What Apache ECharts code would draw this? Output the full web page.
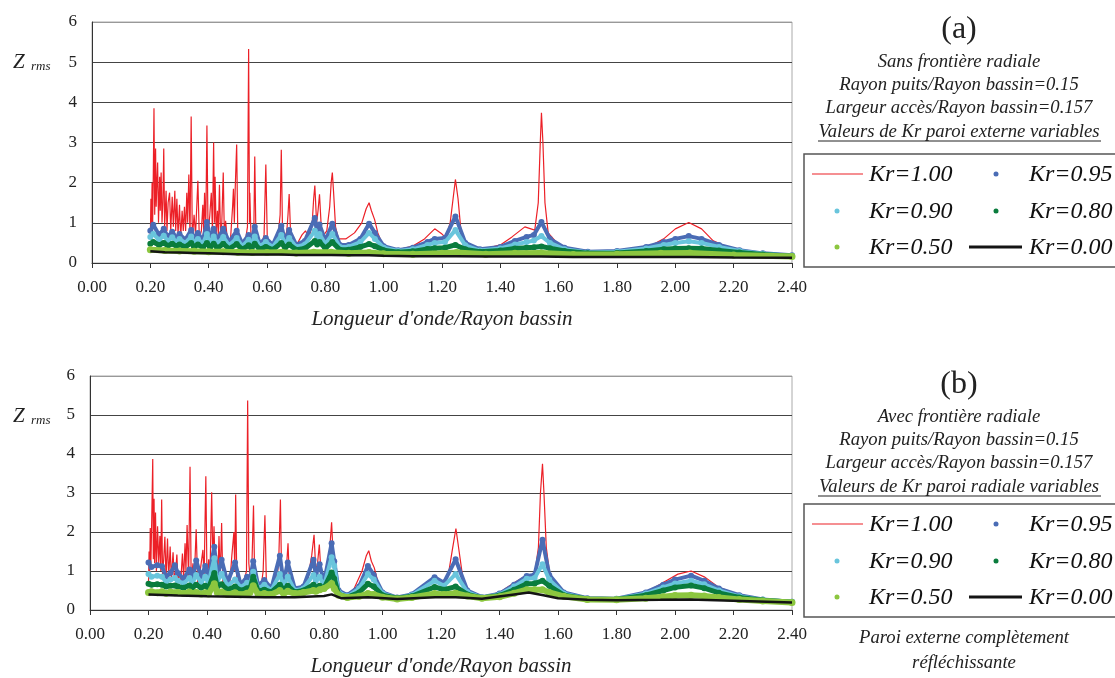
<!DOCTYPE html>
<html>
<head>
<meta charset="utf-8">
<script src="https://cdn.jsdelivr.net/npm/echarts@6/dist/echarts.min.js"></script>
<style>
	html, body { margin: 0; padding: 0; background: #fff; }
	#main { width: 1115px; height: 678px; }
</style>
</head>
<body>
<div id="main"></div>
<script>
// ---- données ----
var xTicks = [0, 0.2, 0.4, 0.6, 0.8, 1.0, 1.2, 1.4, 1.6, 1.8, 2.0, 2.2, 2.4];
var yTicks = [0, 1, 2, 3, 4, 5, 6];
var krNames = ["Kr=1.00", "Kr=0.95", "Kr=0.90", "Kr=0.80", "Kr=0.50", "Kr=0.00"];

// (a) Kr=1.00
var redAx = [0.200, 0.202, 0.204, 0.206, 0.208, 0.210, 0.2125, 0.215, 0.218, 0.220, 0.222, 0.225, 0.228, 0.232, 0.234, 0.237, 0.240, 0.243, 0.246, 0.249,
	0.252, 0.254, 0.257, 0.261, 0.266, 0.270, 0.275, 0.279, 0.284, 0.287, 0.291, 0.295, 0.300, 0.304, 0.309, 0.313, 0.317, 0.321, 0.325, 0.328,
	0.332, 0.336, 0.340, 0.344, 0.350, 0.355, 0.363, 0.368, 0.375, 0.380, 0.383, 0.386, 0.390, 0.394, 0.398, 0.404, 0.409, 0.413, 0.417, 0.420,
	0.422, 0.426, 0.430, 0.433, 0.437, 0.441, 0.445, 0.450, 0.454, 0.458, 0.465, 0.475, 0.482, 0.485, 0.488, 0.491, 0.496, 0.500, 0.510, 0.525,
	0.533, 0.537, 0.540, 0.541, 0.545, 0.550, 0.555, 0.558, 0.562, 0.570, 0.580, 0.590, 0.596, 0.601, 0.615, 0.630, 0.640, 0.645, 0.649, 0.653,
	0.660, 0.668, 0.672, 0.676, 0.681, 0.690, 0.705, 0.720, 0.732, 0.745, 0.755, 0.760, 0.764, 0.770, 0.775, 0.780, 0.786, 0.795, 0.805, 0.815,
	0.820, 0.824, 0.828, 0.835, 0.845, 0.870, 0.900, 0.925, 0.940, 0.950, 0.958, 0.969, 0.980, 0.998, 1.030, 1.055, 1.100, 1.140, 1.175, 1.200,
	1.213, 1.228, 1.238, 1.246, 1.255, 1.265, 1.280, 1.340, 1.400, 1.440, 1.484, 1.518, 1.530, 1.537, 1.541, 1.546, 1.553, 1.564, 1.600, 1.650,
	1.740, 1.850, 1.920, 1.960, 2.000, 2.046, 2.090, 2.130, 2.200, 2.300, 2.400];
var redAy = [0.6, 1.6, 0.9, 2.0, 1.0, 2.1, 3.85, 1.2, 2.85, 1.4, 1.9, 2.5, 1.0, 2.15, 1.3, 2.25, 1.0, 1.5, 2.85, 0.9,
	1.4, 1.8, 0.8, 1.5, 1.75, 0.8, 1.65, 0.9, 1.8, 0.8, 1.6, 0.7, 1.45, 0.6, 1.3, 0.8, 1.4, 0.8, 1.75, 1.0,
	2.2, 0.7, 3.65, 0.6, 1.2, 0.7, 2.05, 0.6, 0.8, 1.45, 0.8, 1.75, 0.8, 3.42, 0.7, 1.2, 1.75, 0.8, 3.0, 1.0,
	2.15, 0.7, 1.3, 0.7, 1.95, 0.6, 1.0, 2.25, 0.6, 1.05, 0.5, 0.6, 1.4, 1.85, 1.0, 1.85, 2.95, 0.6, 0.45, 0.5,
	0.9, 5.33, 1.0, 1.75, 0.7, 0.55, 0.9, 2.65, 0.7, 0.5, 0.4, 0.7, 2.45, 0.6, 0.4, 0.5, 0.8, 1.2, 2.82, 0.9,
	0.6, 0.8, 1.2, 1.72, 0.7, 0.5, 0.5, 0.7, 0.8, 0.6, 1.0, 1.6, 1.93, 1.0, 1.3, 1.71, 0.9, 0.7, 0.8, 1.4,
	2.0, 2.25, 1.8, 0.9, 0.6, 0.6, 0.75, 1.0, 1.35, 1.5, 1.3, 1.08, 0.75, 0.42, 0.35, 0.34, 0.42, 0.6, 0.85, 0.72,
	0.63, 1.0, 1.6, 2.08, 1.6, 0.8, 0.45, 0.34, 0.45, 0.65, 0.9, 0.82, 1.5, 3.0, 3.74, 3.0, 1.5, 0.75, 0.45, 0.34,
	0.28, 0.35, 0.45, 0.6, 0.85, 1.01, 0.85, 0.55, 0.33, 0.24, 0.2];

// (a) Kr=0.95 / 0.90 / 0.80
var midAx = [0.20, 0.21, 0.23, 0.246, 0.26, 0.275, 0.29, 0.30, 0.32, 0.34, 0.35, 0.363, 0.38, 0.394, 0.405, 0.417, 0.43, 0.45, 0.47, 0.496,
	0.515, 0.537, 0.547, 0.558, 0.575, 0.596, 0.62, 0.649, 0.662, 0.676, 0.70, 0.73, 0.764, 0.772, 0.78, 0.80, 0.824, 0.85, 0.88, 0.92,
	0.95, 0.97, 1.00, 1.05, 1.10, 1.15, 1.175, 1.21, 1.246, 1.28, 1.33, 1.40, 1.45, 1.49, 1.515, 1.541, 1.57, 1.62, 1.70, 1.80,
	1.90, 1.96, 2.00, 2.046, 2.09, 2.15, 2.22, 2.30, 2.40];
var blueAy = [0.80, 0.95, 0.70, 0.85, 0.65, 0.78, 0.62, 0.72, 0.58, 0.82, 0.60, 0.75, 0.55, 1.02, 0.62, 0.85, 0.58, 0.85, 0.52, 0.80,
	0.48, 0.70, 0.55, 0.90, 0.48, 0.62, 0.45, 0.93, 0.55, 0.82, 0.45, 0.55, 1.12, 0.75, 0.96, 0.55, 0.98, 0.45, 0.45, 0.60,
	0.98, 0.75, 0.42, 0.32, 0.38, 0.52, 0.60, 0.62, 1.16, 0.50, 0.34, 0.40, 0.55, 0.65, 0.70, 1.02, 0.60, 0.38, 0.28, 0.30,
	0.40, 0.52, 0.60, 0.67, 0.60, 0.45, 0.32, 0.24, 0.19];
var cyanAy = [0.65, 0.72, 0.58, 0.68, 0.55, 0.64, 0.52, 0.60, 0.50, 0.66, 0.50, 0.60, 0.48, 0.72, 0.50, 0.66, 0.48, 0.65, 0.44, 0.62,
	0.42, 0.58, 0.46, 0.66, 0.42, 0.52, 0.40, 0.70, 0.48, 0.62, 0.40, 0.46, 0.80, 0.62, 0.72, 0.47, 0.72, 0.40, 0.40, 0.52,
	0.75, 0.60, 0.38, 0.30, 0.34, 0.45, 0.50, 0.52, 0.82, 0.44, 0.31, 0.36, 0.46, 0.52, 0.56, 0.67, 0.50, 0.34, 0.26, 0.28,
	0.36, 0.45, 0.50, 0.54, 0.50, 0.40, 0.30, 0.23, 0.18];
var greenAy = [0.48, 0.52, 0.45, 0.50, 0.43, 0.48, 0.42, 0.46, 0.40, 0.50, 0.40, 0.46, 0.38, 0.50, 0.39, 0.48, 0.37, 0.48, 0.35, 0.47,
	0.34, 0.44, 0.37, 0.48, 0.34, 0.40, 0.33, 0.50, 0.38, 0.46, 0.33, 0.36, 0.55, 0.46, 0.52, 0.37, 0.52, 0.33, 0.33, 0.40,
	0.47, 0.42, 0.32, 0.27, 0.29, 0.35, 0.37, 0.38, 0.45, 0.34, 0.28, 0.31, 0.36, 0.38, 0.39, 0.41, 0.37, 0.30, 0.24, 0.25,
	0.30, 0.34, 0.36, 0.37, 0.36, 0.31, 0.26, 0.21, 0.17];

// (a) Kr=0.50 / 0.00
var lowAx = [0.20, 0.25, 0.30, 0.35, 0.40, 0.45, 0.50, 0.55, 0.60, 0.65, 0.70, 0.76, 0.82, 0.88, 0.95, 1.00, 1.10, 1.20, 1.25, 1.35,
	1.45, 1.54, 1.65, 1.80, 1.95, 2.05, 2.20, 2.40];
var ygAy = [0.33, 0.31, 0.30, 0.29, 0.28, 0.28, 0.27, 0.26, 0.26, 0.27, 0.25, 0.27, 0.27, 0.24, 0.26, 0.23, 0.22, 0.24, 0.26, 0.22,
	0.24, 0.25, 0.21, 0.22, 0.24, 0.25, 0.20, 0.16];
var blackAy = [0.29, 0.27, 0.26, 0.25, 0.24, 0.23, 0.22, 0.21, 0.21, 0.21, 0.20, 0.20, 0.20, 0.19, 0.19, 0.18, 0.17, 0.17, 0.17, 0.16,
	0.16, 0.16, 0.15, 0.15, 0.15, 0.15, 0.14, 0.13];

// (b) Kr=1.00
var redBx = [0.200, 0.202, 0.204, 0.206, 0.208, 0.211, 0.2145, 0.2165, 0.219, 0.221, 0.224, 0.227, 0.231, 0.235, 0.239, 0.242, 0.245, 0.248, 0.252, 0.256,
	0.260, 0.265, 0.269, 0.274, 0.278, 0.284, 0.288, 0.293, 0.297, 0.301, 0.306, 0.310, 0.316, 0.320, 0.325, 0.328, 0.332, 0.337, 0.342, 0.346,
	0.352, 0.356, 0.363, 0.368, 0.375, 0.386, 0.390, 0.396, 0.400, 0.406, 0.410, 0.416, 0.420, 0.424, 0.428, 0.433, 0.437, 0.441, 0.445, 0.450,
	0.454, 0.460, 0.468, 0.478, 0.485, 0.492, 0.495, 0.498, 0.502, 0.512, 0.525, 0.535, 0.539, 0.543, 0.548, 0.553, 0.559, 0.563, 0.572, 0.585,
	0.592, 0.598, 0.603, 0.615, 0.630, 0.640, 0.645, 0.651, 0.655, 0.662, 0.670, 0.677, 0.682, 0.695, 0.710, 0.730, 0.745, 0.758, 0.766, 0.772,
	0.778, 0.784, 0.790, 0.800, 0.810, 0.818, 0.826, 0.830, 0.838, 0.848, 0.870, 0.900, 0.930, 0.945, 0.953, 0.962, 0.972, 0.985, 1.000, 1.050,
	1.100, 1.150, 1.178, 1.205, 1.225, 1.240, 1.251, 1.262, 1.275, 1.295, 1.340, 1.400, 1.450, 1.493, 1.520, 1.533, 1.540, 1.547, 1.552, 1.560,
	1.572, 1.620, 1.700, 1.800, 1.900, 1.970, 2.010, 2.055, 2.100, 2.150, 2.220, 2.300, 2.400];
var redBy = [0.7, 1.5, 0.9, 2.1, 1.1, 2.3, 3.87, 1.3, 2.85, 1.2, 2.5, 1.0, 2.15, 1.2, 1.9, 1.0, 2.83, 0.9, 1.3, 1.88,
	0.8, 1.83, 0.8, 1.63, 0.8, 1.48, 0.8, 1.0, 1.42, 0.7, 1.0, 0.7, 1.45, 0.8, 1.71, 1.0, 2.18, 0.8, 3.67, 0.7,
	1.2, 0.7, 2.07, 0.7, 0.9, 1.54, 0.8, 3.43, 0.8, 1.3, 0.8, 3.02, 1.2, 2.15, 0.9, 1.4, 0.8, 1.9, 0.8, 2.23,
	0.7, 0.9, 0.6, 0.7, 1.4, 2.0, 1.0, 2.96, 0.7, 0.6, 0.7, 1.0, 5.37, 1.2, 0.8, 1.0, 2.68, 0.8, 0.6, 0.6,
	1.0, 2.43, 0.7, 0.5, 0.55, 0.9, 1.2, 2.83, 0.9, 0.6, 0.9, 1.71, 0.7, 0.5, 0.55, 0.6, 0.8, 1.4, 1.93, 1.0,
	1.2, 1.68, 0.9, 0.7, 0.8, 1.4, 2.25, 1.6, 0.9, 0.5, 0.38, 0.5, 1.0, 1.4, 1.52, 1.25, 1.08, 0.7, 0.45, 0.32,
	0.42, 0.7, 0.84, 0.72, 0.9, 1.6, 2.09, 1.5, 0.8, 0.5, 0.33, 0.45, 0.7, 0.89, 0.9, 1.6, 3.0, 3.75, 3.0, 1.6,
	0.9, 0.45, 0.30, 0.29, 0.45, 0.75, 0.92, 1.0, 0.85, 0.58, 0.38, 0.27, 0.21];

// (b) Kr=0.95 / 0.90 / 0.80 / 0.50
var midBx = [0.20, 0.21, 0.23, 0.246, 0.26, 0.275, 0.29, 0.30, 0.32, 0.34, 0.35, 0.363, 0.38, 0.394, 0.405, 0.425, 0.435, 0.45, 0.47, 0.496,
	0.515, 0.537, 0.547, 0.558, 0.575, 0.596, 0.62, 0.649, 0.662, 0.676, 0.70, 0.73, 0.764, 0.772, 0.785, 0.80, 0.826, 0.835, 0.85, 0.88,
	0.92, 0.95, 0.97, 1.00, 1.05, 1.10, 1.178, 1.21, 1.25, 1.29, 1.34, 1.40, 1.45, 1.493, 1.52, 1.547, 1.57, 1.62, 1.70, 1.80,
	1.90, 1.96, 2.00, 2.055, 2.10, 2.15, 2.22, 2.30, 2.40];
var blueBy = [1.22, 1.10, 1.15, 1.12, 0.85, 0.95, 1.15, 0.95, 0.80, 1.04, 0.80, 1.27, 0.85, 1.13, 0.80, 1.62, 0.85, 1.29, 0.70, 1.22,
	0.65, 0.85, 0.75, 1.25, 0.62, 0.77, 0.55, 1.39, 0.70, 1.22, 0.55, 0.60, 1.29, 0.90, 1.17, 0.70, 1.71, 1.25, 0.50, 0.38,
	0.60, 1.13, 0.90, 0.45, 0.32, 0.40, 0.84, 0.70, 1.30, 0.50, 0.33, 0.42, 0.65, 0.87, 0.90, 1.80, 0.90, 0.45, 0.30, 0.29,
	0.45, 0.65, 0.78, 0.88, 0.75, 0.55, 0.38, 0.27, 0.21];
var cyanBy = [0.92, 0.85, 0.88, 0.85, 0.72, 0.78, 0.82, 0.75, 0.68, 0.82, 0.68, 0.90, 0.70, 0.85, 0.68, 1.33, 0.72, 0.93, 0.62, 0.78,
	0.58, 0.70, 0.65, 0.98, 0.55, 0.65, 0.50, 0.92, 0.62, 0.85, 0.50, 0.55, 0.90, 0.75, 0.85, 0.62, 1.35, 1.13, 0.45, 0.35,
	0.55, 0.92, 0.78, 0.42, 0.31, 0.38, 0.75, 0.62, 0.92, 0.46, 0.32, 0.40, 0.60, 0.80, 0.82, 1.17, 0.78, 0.42, 0.29, 0.28,
	0.42, 0.58, 0.68, 0.75, 0.66, 0.50, 0.35, 0.26, 0.21];
var greenBy = [0.67, 0.65, 0.66, 0.65, 0.60, 0.62, 0.63, 0.60, 0.57, 0.63, 0.57, 0.65, 0.57, 0.62, 0.56, 0.95, 0.60, 0.66, 0.52, 0.60,
	0.50, 0.56, 0.55, 0.85, 0.48, 0.52, 0.46, 0.65, 0.52, 0.62, 0.46, 0.50, 0.65, 0.58, 0.62, 0.56, 0.96, 0.80, 0.40, 0.33,
	0.45, 0.67, 0.60, 0.38, 0.30, 0.35, 0.59, 0.52, 0.60, 0.40, 0.31, 0.37, 0.52, 0.67, 0.68, 0.75, 0.62, 0.38, 0.28, 0.27,
	0.38, 0.50, 0.58, 0.63, 0.56, 0.44, 0.32, 0.25, 0.20];
var ygBy = [0.45, 0.47, 0.44, 0.47, 0.43, 0.46, 0.44, 0.45, 0.42, 0.46, 0.42, 0.45, 0.41, 0.44, 0.41, 0.67, 0.45, 0.46, 0.40, 0.44,
	0.39, 0.43, 0.45, 0.62, 0.40, 0.42, 0.40, 0.50, 0.42, 0.48, 0.42, 0.45, 0.50, 0.48, 0.52, 0.55, 0.68, 0.55, 0.38, 0.32,
	0.35, 0.42, 0.40, 0.33, 0.28, 0.32, 0.42, 0.40, 0.43, 0.36, 0.30, 0.34, 0.43, 0.52, 0.52, 0.52, 0.45, 0.35, 0.27, 0.26,
	0.30, 0.34, 0.37, 0.38, 0.36, 0.32, 0.27, 0.23, 0.19];

// (b) Kr=0.00
var lowBx = [0.20, 0.30, 0.40, 0.50, 0.60, 0.70, 0.80, 0.826, 0.86, 0.95, 1.05, 1.18, 1.25, 1.34, 1.45, 1.50, 1.55, 1.60, 1.70, 1.80,
	1.95, 2.05, 2.20, 2.40];
var blackBy = [0.40, 0.37, 0.35, 0.34, 0.33, 0.33, 0.36, 0.40, 0.30, 0.33, 0.28, 0.33, 0.33, 0.29, 0.40, 0.45, 0.38, 0.30, 0.26, 0.25,
	0.26, 0.27, 0.24, 0.19];

// ---- styles ----
var krColors = ["#ec2027", "#4a6cb5", "#69c5dc", "#0a7c3d", "#8cc63f", "#141414"];
var serif = '"Liberation Serif", "Times New Roman", serif';
var sideFont = "italic 18.7px " + serif;

/**
 * associe x et y
 */
function pairs(xs, ys) {
	return xs.map(function(x, i) {
		return [x, ys[i]];
	});
}

/**
 * une série de la figure
 */
function makeSeries(k, idx, xs, ys) {
	var s = {
		name: krNames[k],
		type: "line",
		xAxisIndex: idx,
		yAxisIndex: idx,
		data: pairs(xs, ys),
		symbol: "none",
		lineStyle: { color: krColors[k], width: 1.2 },
		itemStyle: { color: krColors[k] },
		z: 2 + k
	};
	if (k >= 1 && k <= 4) {
		//points serrés -> bande épaisse
		s.symbol = "circle";
		s.symbolSize = k == 4 ? 7 : 6;
		s.showSymbol = true;
		s.showAllSymbol = true;
		s.lineStyle.width = k == 4 ? 6 : (k == 3 ? 5 : 4);
	}
	if (k == 5) {
		s.lineStyle.width = 2.5;
	}
	return s;
}

/**
 * texte centré
 */
function centerText(text, x, y, font) {
	return { type: "text", style: { text: text, x: x, y: y, font: font, fill: "#222", align: "center", verticalAlign: "middle", textAlign: "center", textVerticalAlign: "middle" } };
}

/**
 * textes et légende à droite d'un panneau
 */
function sideGraphics(dy, dl, letter, lines, underlined) {
	var cx = 959;
	var els = [];
	els.push(centerText(letter, cx, 30 + dy, "32px " + serif));
	var ys = [62, 85, 108];
	for (var i = 0; i < lines.length; i++) {
		els.push(centerText(lines[i], cx, ys[i] + dy, sideFont));
	}
	els.push(centerText(underlined, cx, 132 + dy, sideFont));
	els.push({ type: "line", shape: { x1: 818, y1: 141 + dy, x2: 1101, y2: 141 + dy }, style: { stroke: "#222", lineWidth: 1 } });

	//cadre de la légende
	els.push({ type: "rect", shape: { x: 804, y: 154 + dl, width: 330, height: 113 }, style: { fill: "#fff", stroke: "#555", lineWidth: 1.5 } });
	var rows = [174, 211, 247];
	var lf = "italic 24px " + serif;
	var cols = [[869, 837], [1029, 996]];
	for (var k = 0; k < 6; k++) {
		var r = rows[Math.floor(k / 2)] + dl;
		var c = cols[k % 2];
		if (k == 0) {
			els.push({ type: "line", shape: { x1: 812, y1: r, x2: 863, y2: r }, style: { stroke: krColors[0], lineWidth: 1.2 } });
		} else if (k == 5) {
			els.push({ type: "line", shape: { x1: 969, y1: r, x2: 1022, y2: r }, style: { stroke: krColors[5], lineWidth: 3 } });
		} else {
			els.push({ type: "circle", shape: { cx: c[1], cy: r, r: 2.5 }, style: { fill: krColors[k] } });
		}
		els.push({ type: "text", style: { text: krNames[k], x: c[0], y: r + 1, font: lf, fill: "#111", align: "left", verticalAlign: "middle", textAlign: "left", textVerticalAlign: "middle" } });
	}
	return els;
}

/**
 * étiquette Z rms
 */
function zLabel(y) {
	return [
		{ type: "text", style: { text: "Z", x: 13, y: y, font: "italic 21px " + serif, fill: "#222", verticalAlign: "middle", textVerticalAlign: "middle" } },
		{ type: "text", style: { text: "rms", x: 31, y: y + 5, font: "italic 13px " + serif, fill: "#222", verticalAlign: "middle", textVerticalAlign: "middle" } }
	];
}

function makeXAxis(idx) {
	return {
		type: "value",
		gridIndex: idx,
		min: xTicks[0],
		max: xTicks[xTicks.length - 1],
		interval: 0.2,
		name: "Longueur d'onde/Rayon bassin",
		nameLocation: "middle",
		nameGap: 46,
		nameTextStyle: { fontFamily: serif, fontStyle: "italic", fontSize: 21, color: "#222" },
		axisLine: { lineStyle: { color: "#333", width: 1 } },
		axisTick: { show: true, length: 5, lineStyle: { color: "#333" } },
		axisLabel: { fontFamily: serif, fontSize: 17, color: "#222", margin: 16, formatter: function(v) { return v.toFixed(2); } },
		splitLine: { show: false }
	};
}

function makeYAxis(idx) {
	return {
		type: "value",
		gridIndex: idx,
		min: yTicks[0],
		max: yTicks[yTicks.length - 1],
		interval: 1,
		axisLine: { show: true, lineStyle: { color: "#333", width: 1 } },
		axisTick: { show: false },
		axisLabel: { fontFamily: serif, fontSize: 17, color: "#222", margin: 15 },
		splitLine: { show: true, lineStyle: { color: ["#444", "#444", "#444", "#444", "#444", "#444", "#999"], width: 1 } }
	};
}

/**
 * dessin
 */
function drawChart() {
	var myChart = echarts.init(document.getElementById("main"), null, { renderer: "canvas" });
	var series = [
		makeSeries(0, 0, redAx, redAy),
		makeSeries(1, 0, midAx, blueAy),
		makeSeries(2, 0, midAx, cyanAy),
		makeSeries(3, 0, midAx, greenAy),
		makeSeries(4, 0, lowAx, ygAy),
		makeSeries(5, 0, lowAx, blackAy),
		makeSeries(0, 1, redBx, redBy),
		makeSeries(1, 1, midBx, blueBy),
		makeSeries(2, 1, midBx, cyanBy),
		makeSeries(3, 1, midBx, greenBy),
		makeSeries(4, 1, midBx, ygBy),
		makeSeries(5, 1, lowBx, blackBy)
	];
	var graphics = []
		.concat(zLabel(62), zLabel(416))
		.concat(sideGraphics(0, 0, "(a)", ["Sans frontière radiale", "Rayon puits/Rayon bassin=0.15", "Largeur accès/Rayon bassin=0.157"], "Valeurs de Kr paroi externe variables"))
		.concat(sideGraphics(355, 350, "(b)", ["Avec frontière radiale", "Rayon puits/Rayon bassin=0.15", "Largeur accès/Rayon bassin=0.157"], "Valeurs de Kr paroi radiale variables"));
	graphics.push(centerText("Paroi externe complètement", 964, 638, sideFont));
	graphics.push(centerText("réfléchissante", 964, 663, sideFont));

	var option = {
		animation: false,
		backgroundColor: "#fff",
		grid: [
			{ left: 92, top: 22, width: 700, height: 241, show: true, borderColor: "#aaa", borderWidth: 1, backgroundColor: "transparent" },
			{ left: 90, top: 376, width: 702, height: 241, show: true, borderColor: "#aaa", borderWidth: 1, backgroundColor: "transparent" }
		],
		xAxis: [makeXAxis(0), makeXAxis(1)],
		yAxis: [makeYAxis(0), makeYAxis(1)],
		series: series,
		graphic: { elements: graphics }
	};
	myChart.setOption(option);
}

drawChart();
</script>
</body>
</html>
